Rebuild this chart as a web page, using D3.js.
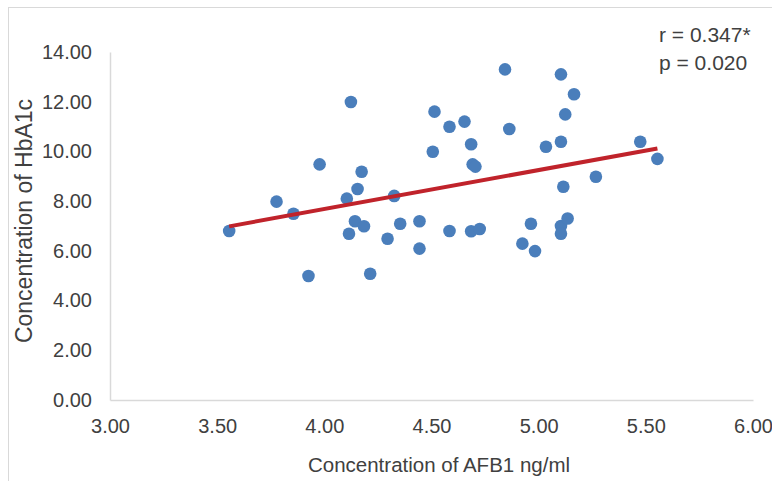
<!DOCTYPE html>
<html>
<head>
<meta charset="utf-8">
<script src="https://cdn.jsdelivr.net/npm/d3@7"></script>
<style>
  body { margin: 0; background: #fff; }
  text { font-family: "Liberation Sans", Arial, sans-serif; fill: #404040; }
</style>
</head>
<body>
<div id="chart"></div>
<script>
// AFB1 concentration (ng/ml) vs HbA1c
var afb1 = [3.556, 3.777, 3.856, 3.926, 3.978, 4.105, 4.115, 4.124, 4.143, 4.155,
            4.174, 4.185, 4.214, 4.295, 4.326, 4.354, 4.444, 4.444, 4.506, 4.514,
            4.584, 4.584, 4.654, 4.685, 4.685, 4.692, 4.705, 4.725, 4.843, 4.863,
            4.924, 4.964, 4.983, 5.034, 5.104, 5.104, 5.104, 5.104, 5.115, 5.124,
            5.135, 5.165, 5.267, 5.474, 5.554]
var hba1c = [6.80, 7.98, 7.49, 4.99, 9.48, 8.10, 6.69, 11.99, 7.19, 8.49,
             9.18, 6.99, 5.08, 6.49, 8.21, 7.09, 6.09, 7.19, 9.99, 11.60,
             6.80, 10.99, 11.20, 10.29, 6.79, 9.48, 9.39, 6.88, 13.30, 10.90,
             6.29, 7.09, 5.99, 10.19, 13.10, 10.39, 7.00, 6.69, 8.58, 11.49,
             7.30, 12.30, 8.98, 10.39, 9.70]
var xTicks = [3, 3.5, 4, 4.5, 5, 5.5, 6]
var yTicks = [0, 2, 4, 6, 8, 10, 12, 14]
var stats = ["r = 0.347*", "p = 0.020"]

var width = 772, height = 481
var margin = {top: 52, right: 19, bottom: 81, left: 110}

var svg = d3.select("#chart").append("svg")
    .attr("width", width)
    .attr("height", height)

// chart border (cut off by the window on the right and bottom)
svg.append("rect")
    .attr("x", 8.5).attr("y", 7.5)
    .attr("width", width).attr("height", height)
    .attr("fill", "none")
    .attr("stroke", "#d9d9d9")

var x = d3.scaleLinear().domain([3, 6]).range([margin.left, width - margin.right])
var y = d3.scaleLinear().domain([0, 14]).range([height - margin.bottom, margin.top])

// x axis
var xAxis = svg.append("g")
    .attr("transform", "translate(0," + y(0) + ")")
    .call(d3.axisBottom(x).tickValues(xTicks).tickSize(0).tickPadding(19).tickFormat(d3.format(".2f")))
xAxis.select(".domain").attr("stroke", "#d9d9d9").attr("stroke-width", 1.5)
xAxis.selectAll("text").style("font-size", "20px").attr("fill", "#404040")

// y axis
var yAxis = svg.append("g")
    .attr("transform", "translate(" + x(3) + ",0)")
    .call(d3.axisLeft(y).tickValues(yTicks).tickSize(0).tickPadding(18).tickFormat(d3.format(".2f")))
yAxis.select(".domain").attr("stroke", "#d9d9d9").attr("stroke-width", 1.5)
yAxis.selectAll("text").style("font-size", "20px").attr("fill", "#404040")

// least squares trend line
var n = afb1.length
var mx = d3.mean(afb1), my = d3.mean(hba1c)
var sxy = 0, sxx = 0
for (let i = 0; i < n; i++) {
  sxy += (afb1[i] - mx) * (hba1c[i] - my)
  sxx += (afb1[i] - mx) * (afb1[i] - mx)
}
var slope = sxy / sxx, icpt = my - slope * mx
var x0 = d3.min(afb1), x1 = d3.max(afb1)

// points
svg.append("g").selectAll("circle")
    .data(afb1)
  .enter().append("circle")
    .attr("cx", function(d) { return x(d) })
    .attr("cy", function(d, i) { return y(hba1c[i]) })
    .attr("r", 6.3)
    .attr("fill", "#4a7ebb")

svg.append("line")
    .attr("x1", x(x0)).attr("y1", y(icpt + slope * x0))
    .attr("x2", x(x1)).attr("y2", y(icpt + slope * x1))
    .attr("stroke", "#c0232b")
    .attr("stroke-width", 4)

// axis titles
svg.append("text")
    .attr("x", 439)
    .attr("y", 472)
    .attr("text-anchor", "middle")
    .style("font-size", "20.5px")
    .text("Concentration of AFB1 ng/ml")

svg.append("text")
    .attr("transform", "translate(32,221) rotate(-90)")
    .attr("text-anchor", "middle")
    .style("font-size", "23px")
    .text("Concentration of HbA1c")

// correlation note
svg.append("g").selectAll("text")
    .data(stats)
  .enter().append("text")
    .attr("x", 659)
    .attr("y", function(d, i) { return 42 + i * 28 })
    .style("font-size", "21px")
    .text(function(d) { return d })
</script>
</body>
</html>
